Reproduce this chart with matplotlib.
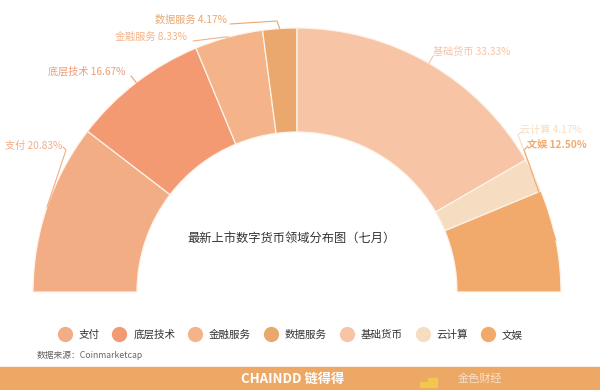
import numpy as np
import matplotlib
matplotlib.use('Agg')
import matplotlib.pyplot as plt
from matplotlib.lines import Line2D

plt.rcParams['font.family'] = ['Noto Sans CJK SC', 'DejaVu Sans']

# data
categories = ['支付', '底层技术', '金融服务', '数据服务', '基础货币', '云计算', '文娱']
shares = [20.83, 16.67, 8.33, 4.17, 33.33, 4.17, 12.50]
colors = ['#F2AD84', '#F39A73', '#F4B388', '#EAA86C', '#F7C4A6', '#F6DDC2', '#F2A96C']
title = '最新上市数字货币领域分布图（七月）'
source = '数据来源：Coinmarketcap'

# layout (pixel coords, y measured from the bottom)
W, H = 600, 390
cx, cy = 297, 390 - 292
R_out, R_in = 264, 160

fig = plt.figure(figsize=(6, 3.9), dpi=100)
ax = fig.add_axes([0, 0, 1, 1])

# half donut: the extra invisible slice takes the lower half
total = sum(shares)
wedges, _ = ax.pie(shares + [total], colors=colors + ['none'], startangle=180,
                   counterclock=False, center=(cx, cy), radius=R_out,
                   wedgeprops=dict(width=R_out - R_in, edgecolor='#fdf3ea', linewidth=0.9))
wedges[-1].set_edgecolor('none')

ax.set_xlim(0, W)
ax.set_ylim(0, H)
ax.set_aspect('equal')
ax.axis('off')

# label text anchors (left edge, centre y) and elbows of leader lines, in pixels
label_pos = [(5, 146), (48, 72), (115, 37), (155, 20), (433, 52), (520, 130), (527, 144)]
elbows = [[(66, 150), (63, 147)],
          [(131, 76)],
          [(225, 37), (193, 41)],
          [(277, 21), (230, 24)],
          [(433, 56)],
          [(518, 135), (521, 132)],
          [(524, 150), (528, 146)]]

angle = 180.0
for i, (name, val) in enumerate(zip(categories, shares)):
    span = val / total * 180.0
    mid = np.deg2rad(angle - span / 2)
    angle -= span
    ex, ey = cx + R_out * np.cos(mid), cy + R_out * np.sin(mid)
    pts = [(ex, ey)] + [(x, H - y) for x, y in elbows[i]]
    xs, ys = zip(*pts)
    ax.plot(xs, ys, color=colors[i], lw=0.8, solid_capstyle='round')
    lx, ly = label_pos[i]
    ax.text(lx, H - ly, '{} {:.2f}%'.format(name, val), color=colors[i],
            fontsize=7.3, va='center', ha='left',
            fontweight='bold' if name == '文娱' else 'normal')

ax.text(292, H - 238, title, fontsize=8.8, color='#333333', ha='center', va='center',
        fontweight='medium')

# legend
handles = [Line2D([], [], marker='o', linestyle='none', markersize=11,
                  markerfacecolor=c, markeredgecolor='none') for c in colors]
fig.legend(handles, categories, loc='center', bbox_to_anchor=(291 / W, 1 - 335 / H),
           ncol=7, frameon=False, fontsize=7.6, handletextpad=0.8, columnspacing=1.4,
           handlelength=1.0, labelcolor='#333333')

ax.text(37, H - 355, source, fontsize=6.3, color='#666666', ha='left', va='center')

# footer band
ax.add_patch(plt.Rectangle((0, 0), W, 23, color='#EDA866', zorder=5))
ax.text(293, 11.5, 'CHAINDD 链得得', fontsize=9.5, color='white', fontweight='bold',
        ha='center', va='center', zorder=6)
ax.add_patch(plt.Rectangle((428, 3), 9, 9, color='#F3C74E', zorder=6))
ax.add_patch(plt.Rectangle((420, 3), 8, 5, color='#F3C74E', zorder=6))
ax.text(480, 11, '金色财经', fontsize=8, color='#f7e0c8', ha='center', va='center', zorder=6)

plt.savefig('out.png', dpi=100)
